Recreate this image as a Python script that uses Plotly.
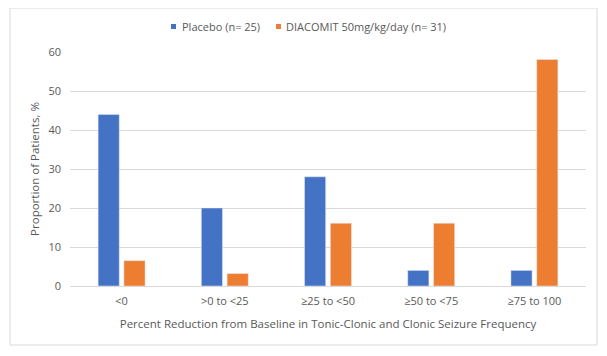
import plotly.graph_objects as go

categories = ["<0", ">0 to <25", "≥25 to <50", "≥50 to <75", "≥75 to 100"]
placebo = [44, 20, 28, 4, 4]
diacomit = [6.5, 3.2, 16.1, 16.1, 58.1]
series_names = ["Placebo (n= 25)", "DIACOMIT 50mg/kg/day (n= 31)"]
colors = ["#4472C4", "#ED7D31"]
y_ticks = [0, 10, 20, 30, 40, 50, 60]

OFF = 8  # default page body margin
W, H = 607 - OFF, 356 - OFF
# plot area in page pixels: x 70..586, y 52..286
PL, PR, PT, PB = 70, 586, 52, 286
L, R, T, B = PL - OFF, W - (PR - OFF), PT - OFF, H - (PB - OFF)
pw, ph = PR - PL, PB - PT

def px(x):
    return (x - PL) / pw

def py(y):
    return (PB - y) / ph

fig = go.Figure()
fig.add_trace(go.Bar(x=categories, y=placebo, name=series_names[0], marker_color=colors[0], showlegend=False))
fig.add_trace(go.Bar(x=categories, y=diacomit, name=series_names[1], marker_color=colors[1], showlegend=False))

grey = "#595959"
fam = "Open Sans, Noto Sans, sans-serif"
fig.update_layout(
    width=W, height=H,
    margin=dict(l=L, r=R, t=T, b=B),
    paper_bgcolor="white", plot_bgcolor="white",
    font=dict(family=fam, size=11, color=grey),
    barmode="group", bargap=0.5, bargroupgap=0.18,
    showlegend=False,
    xaxis=dict(showline=True, linecolor="#D9D9D9", ticks="", showgrid=False, ticklabelstandoff=5,
               title=dict(text="Percent Reduction from Baseline in Tonic-Clonic and Clonic Seizure Frequency",
                          font=dict(size=11.5, color=grey), standoff=12),
               tickfont=dict(size=11, color=grey)),
    yaxis=dict(range=[0, 60], tickvals=y_ticks, showgrid=True, gridcolor="#D9D9D9", zeroline=False,
               showline=False, ticks="", ticklen=0, ticklabelstandoff=8,
               title=dict(text="Proportion of Patients, %", font=dict(size=11.5, color=grey), standoff=6),
               tickfont=dict(size=11, color=grey)),
)
# outer chart border
fig.add_shape(type="rect", xref="paper", yref="paper",
              x0=px(10), x1=px(597), y0=py(345), y1=py(8),
              line=dict(color="#D9D9D9", width=1), fillcolor="rgba(0,0,0,0)", layer="below")
# legend (squares + text)
legend_pos = [(171, 180), (276, 284)]
for (sx, tx), name, col in zip(legend_pos, series_names, colors):
    fig.add_shape(type="rect", xref="paper", yref="paper",
                  x0=px(sx), x1=px(sx + 5), y0=py(29), y1=py(24),
                  line=dict(width=0), fillcolor=col)
    fig.add_annotation(xref="paper", yref="paper", x=px(tx), y=py(26.5), text=name,
                       showarrow=False, xanchor="left", yanchor="middle",
                       font=dict(family=fam, size=11, color=grey))
fig.write_html("out.html")
